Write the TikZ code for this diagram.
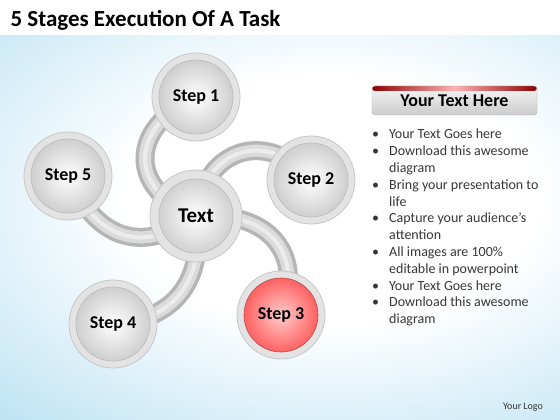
\documentclass[tikz,border=0pt]{standalone}
\usepackage{fontspec}
\setmainfont{Carlito}
\usetikzlibrary{positioning,backgrounds}
\pgfdeclarelayer{tubes}
\pgfsetlayers{background,tubes,main}
\definecolor{skyb}{RGB}{192,228,244}
\definecolor{inkgray}{RGB}{55,55,55}
\pgfdeclareradialshading{sky}{\pgfpoint{0bp}{0bp}}{color(0bp)=(white); color(12bp)=(white); color(28bp)=(skyb); color(50bp)=(skyb)}
\newcommand\listbul{\makebox[20pt][l]{\hspace{3pt}\textbullet}}
\newcommand\listind{\hspace*{20pt}}

\tikzset{
  stage/.style={circle, minimum size=88pt, inner sep=0pt, fill=gray!22, draw=gray!45,
    line width=.8pt, font=\bfseries\fontsize{18}{18}\selectfont,
    path picture={\shade[inner color=white, outer color=gray!45]
      (path picture bounding box.center) circle (37pt);
      \draw[gray!55, line width=.6pt] (path picture bounding box.center) circle (37pt);}},
  hot/.style={path picture={\shade[inner color=red!20, outer color=red!70]
      (path picture bounding box.center) circle (37pt);
      \draw[red!40!gray, line width=.6pt] (path picture bounding box.center) circle (37pt);}},
  tube/.style={line width=19pt, draw=gray!58,
    postaction={draw=gray!28, line width=12pt},
    postaction={draw=white!85!gray, line width=4pt}},
  banner/.style={rectangle, rounded corners=3pt, minimum width=165pt, minimum height=29pt,
    draw=gray!60, top color=gray!8, bottom color=gray!40,
    font=\bfseries\fontsize{18}{18}\selectfont,
    path picture={\shade[left color=red!55!black, right color=red!55!black, middle color=red!30]
      (path picture bounding box.north west) rectangle ([yshift=-5pt]path picture bounding box.north east);}},
  bullets/.style={align=left, inner sep=0pt, text=inkgray, font=\fontsize{14}{16.8}\selectfont},
}

\begin{document}
\begin{tikzpicture}[x=1pt, y=-1pt]
  \useasboundingbox (0,0) rectangle (560,420);

  % backdrop
  \begin{pgfonlayer}{background}
    \fill[white] (0,0) rectangle (560,420);
    \begin{scope}
      \clip (0,36) rectangle (560,420);
      \shade[shading=sky] (-100,-60) rectangle (760,460);
    \end{scope}
  \end{pgfonlayer}

  \node[anchor=base west, font=\bfseries\fontsize{23}{23}\selectfont] (title) at (7,27) {5 Stages Execution Of A Task};

  % stages
  \node[stage] (s1) at (196,97) {Step 1};
  \node[stage] (s2) at (311,180) {Step 2};
  \node[stage, hot] (s3) at (281,315) {Step 3};
  \node[stage] (s4) at (113,324) {Step 4};
  \node[stage] (s5) at (68,176) {Step 5};
  \node[stage, minimum size=92pt, font=\bfseries\fontsize{21}{21}\selectfont] (hub) at (196,216) {Text};

  % tubes
  \begin{pgfonlayer}{tubes}
    \draw[tube] (s1.center) .. controls +(-68,31) and +(-68,-26) .. (hub.center);
    \draw[tube] (hub.center) .. controls +(9,-71) and +(-41,-50) .. (s2.center);
    \draw[tube] (hub.center) .. controls +(74,-6) and +(24,-60) .. (s3.center);
    \draw[tube] (hub.center) .. controls +(9,64) and +(62,-4) .. (s4.center);
    \draw[tube] (s5.center) .. controls +(32,72) and +(-46,34) .. (hub.center);
  \end{pgfonlayer}

  % text panel
  \node[banner] (head) at (454.5,100.5) {Your Text Here};
  \node[bullets, anchor=north west] (list) at (369,129) {\listbul Your Text Goes here\\
    \listbul Download this awesome\\ \listind diagram\\
    \listbul Bring your presentation to\\ \listind life\\
    \listbul Capture your audience’s\\ \listind attention\\
    \listbul All images are 100\%\\ \listind editable in powerpoint\\
    \listbul Your Text Goes here\\
    \listbul Download this awesome\\ \listind diagram};

  \node[font=\fontsize{10}{10}\selectfont, text=inkgray] (logo) at (523,407) {Your Logo};
\end{tikzpicture}
\end{document}
